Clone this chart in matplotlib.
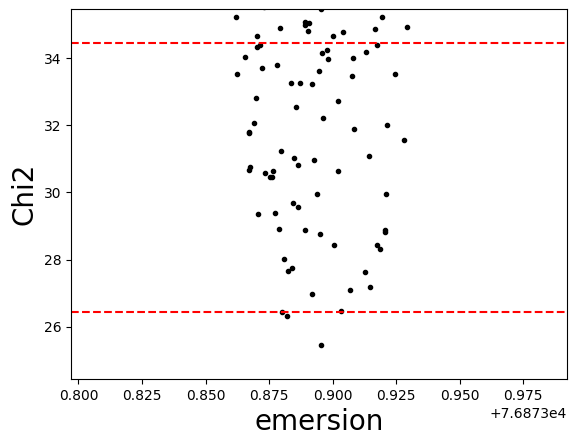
import numpy as np
import matplotlib
matplotlib.use("Agg")
import matplotlib.pyplot as plt

# emersion times (offset from 76873) and chi2 values
emersion_frac = [
    0.8620, 0.8730, 0.8953, 0.9196, 0.8892, 0.8906, 0.8892, 0.8794, 0.9291, 0.9167,
    0.8904, 0.9042, 0.8703, 0.9003, 0.8703, 0.8715, 0.9176, 0.8959, 0.8979, 0.9133,
    0.8655, 0.8983, 0.9082, 0.8722, 0.8782, 0.8624, 0.8947, 0.9078, 0.9244, 0.8837,
    0.8872, 0.8920, 0.8699, 0.9021, 0.8857, 0.8963, 0.8691, 0.8671, 0.8671, 0.9086,
    0.9216, 0.9279, 0.8797, 0.8849, 0.8862, 0.8928, 0.9145, 0.8675, 0.8671, 0.8734,
    0.8766, 0.8754, 0.8762, 0.9022, 0.8940, 0.9212, 0.8845, 0.8862, 0.8707, 0.8774,
    0.8790, 0.8892, 0.8951, 0.9208, 0.9208, 0.9007, 0.9173, 0.9188, 0.8809, 0.8841,
    0.8825, 0.9129, 0.9070, 0.9149, 0.8920, 0.8801, 0.8821, 0.9034, 0.8955,
]
chi2 = [
    35.23, 35.52, 35.455, 35.23, 35.07, 35.04, 34.99, 34.90, 34.93, 34.86,
    34.80, 34.77, 34.66, 34.66, 34.33, 34.39, 34.39, 34.15, 34.24, 34.18,
    34.03, 33.97, 34.00, 33.70, 33.79, 33.52, 33.61, 33.46, 33.52, 33.25,
    33.25, 33.23, 32.81, 32.72, 32.54, 32.21, 32.06, 31.81, 31.76, 31.88,
    32.00, 31.56, 31.23, 31.02, 30.81, 30.96, 31.08, 30.75, 30.66, 30.57,
    30.63, 30.45, 30.45, 30.63, 29.95, 29.95, 29.68, 29.56, 29.35, 29.38,
    28.90, 28.87, 28.75, 28.87, 28.81, 28.43, 28.43, 28.31, 28.01, 27.74,
    27.65, 27.62, 27.08, 27.17, 26.97, 26.44, 26.31, 26.46, 25.45,
]
t0 = 76873
chi2_lo = 26.44
chi2_hi = 34.46

emersion = t0 + np.array(emersion_frac)

fig = plt.figure(figsize=(5.77, 4.46), dpi=100)
ax = fig.add_axes([0.1236, 0.1502, 0.8585, 0.8289])
ax.plot(emersion, chi2, 'k.')
ax.axhline(chi2_lo, color='r', ls='--')
ax.axhline(chi2_hi, color='r', ls='--')
ax.set_xlim(t0 + 0.7972, t0 + 0.9921)
ax.set_ylim(24.44, 35.46)
ax.set_xlabel('emersion', fontsize=20)
ax.set_ylabel('Chi2', fontsize=20)
fig.savefig('out.png', dpi=100)
